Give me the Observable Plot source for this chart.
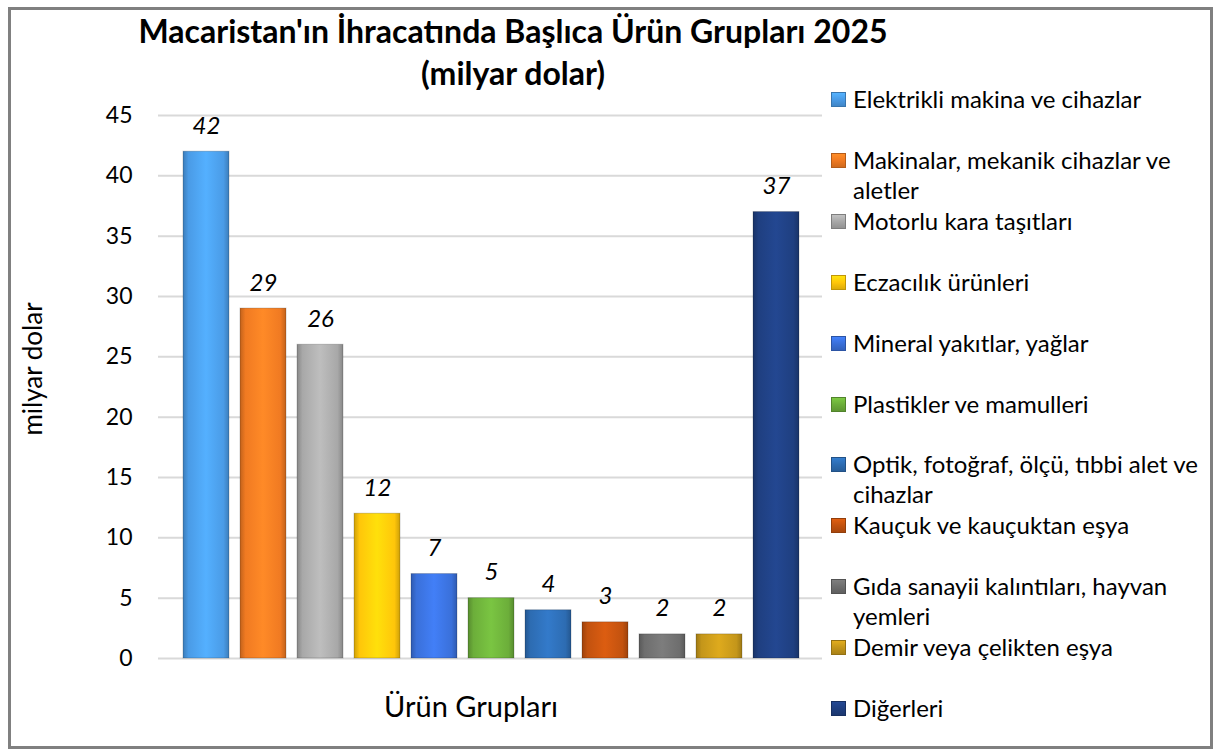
<!DOCTYPE html>
<html><head><meta charset="utf-8">
<script src="https://cdn.jsdelivr.net/npm/d3@7"></script>
<script src="https://cdn.jsdelivr.net/npm/@observablehq/plot@0.6"></script>
<style>
body{margin:0;background:#fff;font-family:Lato,"Open Sans",sans-serif;}
#wrap{position:relative;width:1219px;height:756px;overflow:hidden;}
#frame{position:absolute;left:8px;top:7px;width:1199px;height:736px;border:3px solid #808080;}
#chart{position:absolute;left:0;top:0;}
.title{position:absolute;left:63px;width:900px;text-align:center;font-weight:bold;font-size:32px;color:#000;}
.leg{position:absolute;left:831px;width:375px;font-size:24px;line-height:30px;color:#000;}
.leg .sw{position:absolute;left:0;top:8px;width:15px;height:15px;box-sizing:border-box;}
.leg .tx{margin-left:22px;}
#ylab{position:absolute;left:32px;top:369px;transform:translate(-50%,-50%) rotate(-90deg);font-size:26px;white-space:nowrap;}
#xlab{position:absolute;left:471px;top:705px;transform:translate(-50%,-50%);font-size:29px;white-space:nowrap;}
</style></head>
<body><div id="wrap"><div id="frame"></div><div id="chart"></div>
<div class="title" style="top:11px">Macaristan'ın İhracatında Başlıca Ürün Grupları 2025</div>
<div class="title" style="top:53px">(milyar dolar)</div>
<div id="ylab">milyar dolar</div>
<div id="xlab">Ürün Grupları</div>
</div>
<script>
const categories = ["Elektrikli makina ve cihazlar","Makinalar, mekanik cihazlar ve aletler","Motorlu kara taşıtları","Eczacılık ürünleri","Mineral yakıtlar, yağlar","Plastikler ve mamulleri","Optik, fotoğraf, ölçü, tıbbi alet ve cihazlar","Kauçuk ve kauçuktan eşya","Gıda sanayii kalıntıları, hayvan yemleri","Demir veya çelikten eşya","Diğerleri"];
const values = [42,29,26,12,7,5,4,3,2,2,37];
const colors = ["#4a9be6","#f07a22","#a8a8a8","#ffc60a","#3a70da","#6cae3a","#2d6cb2","#c2520f","#6e6e6e","#c4961a","#1f3f80"];
const yTicks = [0,5,10,15,20,25,30,35,40,45];

const data = categories.map((c,i)=>({cat:c, value:values[i], fill:`url(#g${i})`}));

const plot = Plot.plot({
  width:1219, height:756,
  marginTop:115, marginBottom:98, marginLeft:158, marginRight:397,
  style:{fontFamily:"Lato, 'Open Sans', sans-serif", fontSize:"23px", color:"#000", background:"transparent"},
  x:{type:"band", domain:categories, range:[181,801], paddingInner:0.2, paddingOuter:0, axis:null},
  y:{domain:[0,45]},
  color:{type:"identity"},
  marks:[
    Plot.ruleY(yTicks, {stroke:"#d9d9d9", strokeWidth:2}),
    Plot.axisY({ticks:yTicks, tickSize:0, tickPadding:26, fontSize:23, label:null}),
    Plot.barY(data, {x:"cat", y:"value", fill:"fill", stroke:"#00000030", strokeWidth:1}),
    Plot.text(data, {x:"cat", y:"value", text:d=>String(d.value), dy:-18, lineAnchor:"bottom", fontStyle:"italic", fontSize:24, fill:"#000"})
  ]
});
const svg = d3.select(plot);
const defs = svg.insert("defs", ":first-child");
colors.forEach((c,i)=>{
  const g = defs.append("linearGradient").attr("id",`g${i}`).attr("x1",0).attr("x2",1).attr("y1",0).attr("y2",0);
  const base = d3.color(c);
  [[0, base.darker(0.6)],[0.12, base],[0.5, base.brighter(0.35)],[0.88, base],[1, base.darker(0.6)]].forEach(([o,col])=>{
    g.append("stop").attr("offset",o).attr("stop-color",col.formatHex());
  });
});
document.getElementById("chart").appendChild(plot);

const wrap = document.getElementById("wrap");
categories.forEach((c,i)=>{
  const d = document.createElement("div");
  d.className="leg";
  d.style.top = (84 + i*60.9) + "px";
  const sw = document.createElement("div");
  sw.className="sw";
  const b = d3.color(colors[i]);
  sw.style.background = `linear-gradient(to bottom, ${b.brighter(0.4).formatHex()}, ${b.formatHex()} 50%, ${b.darker(0.4).formatHex()})`;
  sw.style.border = `1px solid ${b.darker(0.8).formatHex()}`;
  const tx = document.createElement("div");
  tx.className="tx"; tx.textContent=c;
  d.appendChild(sw); d.appendChild(tx);
  wrap.appendChild(d);
});
</script></body></html>
